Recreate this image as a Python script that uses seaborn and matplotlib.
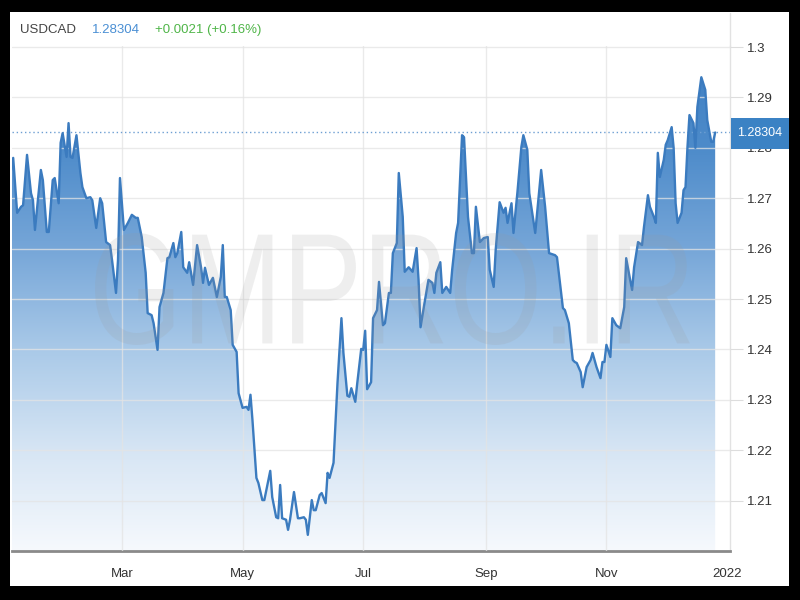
import numpy as np
import pandas as pd
import seaborn as sns
import matplotlib.pyplot as plt
import matplotlib.dates as mdates
from matplotlib.patches import Rectangle, PathPatch
from matplotlib.lines import Line2D
from matplotlib.colors import LinearSegmentedColormap
from matplotlib.textpath import TextPath
from matplotlib.font_manager import FontProperties
from matplotlib.transforms import Affine2D

sns.set_style('white')
plt.rcParams['font.family'] = ['Liberation Sans', 'DejaVu Sans']

# ----------------------------------------------------------------------
# data: day number counted from 1 Jan 2021, USDCAD rate
# ----------------------------------------------------------------------
days_2021 = [
    3, 4, 6, 8, 9, 11, 13, 14, 15, 18, 19, 21, 22, 24, 25, 27, 28, 29,          # Jan
    31, 32, 33, 34, 36, 38, 39, 41, 43, 44, 46, 48, 49, 51, 53, 54, 56, 57, 58,  # Feb
    60, 62, 64, 66, 67, 69, 71, 72, 74, 75, 77, 78, 80, 82, 83, 85, 86, 87, 89,  # Mar
    90, 92, 93, 95, 97, 99, 100, 101, 103, 105, 107, 109, 110, 111, 112, 114, 115, 117, 118,  # Apr
    120, 122, 123, 124, 125, 127, 128, 130, 131, 134, 135, 137, 138, 139, 140, 142, 143, 144,
    146, 148, 149,                                                               # May
    151, 152, 153, 155, 156, 157, 159, 160, 162, 163, 164, 166, 168, 170, 171, 173, 174, 175,
    177, 178, 180,                                                               # Jun
    181, 182, 183, 185, 186, 188, 189, 191, 192, 194, 195, 196, 198, 199, 201, 202, 204, 206,
    208, 209, 210,                                                               # Jul
    212, 214, 216, 217, 218, 220, 221, 223, 225, 226, 228, 229, 231, 232, 234, 236, 237, 238,
    240, 242,                                                                    # Aug
    244, 245, 247, 248, 250, 252, 253, 254, 256, 257, 259, 261, 262, 264, 265, 267, 268, 271,  # Sep
    273, 275, 278, 279, 282, 283, 285, 287, 288, 289, 291, 292, 294, 296, 297, 299, 301, 302, 303,  # Oct
    304, 306, 307, 309, 311, 313, 314, 316, 317, 318, 320, 322, 323, 325, 326, 328, 329, 330, 331, 333,  # Nov
    334, 335, 337, 338, 339, 340, 342, 343, 344, 345, 346, 348, 349, 350, 352, 354, 355, 357, 358, 359,  # Dec
]
rates = [
    1.2756, 1.2780, 1.2671, 1.2683, 1.2686, 1.2786, 1.2710, 1.2696, 1.2637, 1.2756, 1.2736, 1.2633,
    1.2633, 1.2736, 1.2740, 1.2690, 1.2810, 1.2829,
    1.2782, 1.2849, 1.2782, 1.2780, 1.2825, 1.2750, 1.2722, 1.2700, 1.2702, 1.2696, 1.2641, 1.2700,
    1.2690, 1.2613, 1.2607, 1.2577, 1.2512, 1.2577, 1.2740,
    1.2637, 1.2651, 1.2667, 1.2661, 1.2661, 1.2623, 1.2552, 1.2472, 1.2468, 1.2452, 1.2399, 1.2484,
    1.2512, 1.2581, 1.2583, 1.2611, 1.2583, 1.2591, 1.2633,
    1.2563, 1.2552, 1.2573, 1.2528, 1.2607, 1.2563, 1.2532, 1.2562, 1.2528, 1.2542, 1.2504, 1.2544,
    1.2607, 1.2504, 1.2504, 1.2478, 1.2409, 1.2395, 1.2313,
    1.2284, 1.2286, 1.2280, 1.2310, 1.2260, 1.2145, 1.2135, 1.2101, 1.2101, 1.2159, 1.2107, 1.2067,
    1.2065, 1.2131, 1.2065, 1.2062, 1.2042, 1.2062, 1.2117, 1.2065, 1.2065,
    1.2067, 1.2062, 1.2032, 1.2101, 1.2081, 1.2081, 1.2111, 1.2115, 1.2095, 1.2155, 1.2145, 1.2175,
    1.2333, 1.2462, 1.2393, 1.2308, 1.2306, 1.2323, 1.2296, 1.2333, 1.2401,
    1.2399, 1.2437, 1.2321, 1.2335, 1.2462, 1.2478, 1.2534, 1.2448, 1.2452, 1.2512, 1.2512, 1.2591,
    1.2611, 1.2750, 1.2663, 1.2554, 1.2563, 1.2554, 1.2601, 1.2538, 1.2444,
    1.2492, 1.2538, 1.2532, 1.2512, 1.2552, 1.2573, 1.2512, 1.2524, 1.2512, 1.2558, 1.2631, 1.2651,
    1.2825, 1.2821, 1.2663, 1.2591, 1.2591, 1.2683, 1.2613, 1.2621,
    1.2623, 1.2558, 1.2524, 1.2597, 1.2692, 1.2671, 1.2681, 1.2651, 1.2690, 1.2631, 1.2712, 1.2802,
    1.2825, 1.2796, 1.2710, 1.2657, 1.2631, 1.2756,
    1.2683, 1.2591, 1.2587, 1.2583, 1.2482, 1.2478, 1.2452, 1.2379, 1.2375, 1.2373, 1.2355, 1.2325,
    1.2365, 1.2379, 1.2393, 1.2365, 1.2343, 1.2375, 1.2375,
    1.2409, 1.2385, 1.2462, 1.2448, 1.2442, 1.2484, 1.2581, 1.2538, 1.2518, 1.2563, 1.2613, 1.2607,
    1.2643, 1.2706, 1.2683, 1.2663, 1.2651, 1.2790, 1.2742, 1.2776,
    1.2806, 1.2815, 1.2841, 1.2800, 1.2690, 1.2651, 1.2671, 1.2716, 1.2722, 1.2802, 1.2865, 1.2849,
    1.2800, 1.2881, 1.2940, 1.2915, 1.2855, 1.2812, 1.2812, 1.28304,
]

symbol = 'USDCAD'
last_price = '1.28304'
change_text = '+0.0021 (+0.16%)'
month_ticks = ['2021-03-01', '2021-05-01', '2021-07-01', '2021-09-01', '2021-11-01', '2022-01-01']
month_labels = ['Mar', 'May', 'Jul', 'Sep', 'Nov', '2022']
y_ticks = [1.21, 1.22, 1.23, 1.24, 1.25, 1.26, 1.27, 1.28, 1.29, 1.30]
y_labels = ['1.21', '1.22', '1.23', '1.24', '1.25', '1.26', '1.27', '1.28', '1.29', '1.3']
watermark = 'GMPRO.IR'

start = pd.Timestamp('2021-01-01')
df = pd.DataFrame({'date': start + pd.to_timedelta(days_2021, unit='D'), 'rate': rates})

# ----------------------------------------------------------------------
# figure: black frame, white panel
# ----------------------------------------------------------------------
fig = plt.figure(figsize=(8, 6), dpi=100, facecolor='black')
fig.patches.append(Rectangle((10 / 800, 14 / 600), 779 / 800, 574 / 600,
                             transform=fig.transFigure, facecolor='white',
                             edgecolor='none', zorder=-1))

ax = fig.add_axes([12 / 800, 49 / 600, 718 / 800, 505 / 600])
ax.set_facecolor('white')

sns.lineplot(data=df, x='date', y='rate', color='#3b7bbf', linewidth=1.7, ax=ax, zorder=3)

ylo, yhi = 1.20, 1.3002
xmin = start + pd.Timedelta(days=3.4)
xmax = start + pd.Timedelta(days=366.5)

# gradient area under the line
cmap = LinearSegmentedColormap.from_list(
    'fx', ['#f6f9fd', '#d6e5f4', '#a9c9e8', '#76a6d8', '#4d8bca', '#3f7fc2'])
grad = np.linspace(1, 0, 256).reshape(-1, 1)
im = ax.imshow(grad, aspect='auto', cmap=cmap, origin='upper', zorder=1,
               extent=[mdates.date2num(xmin), mdates.date2num(xmax), ylo, yhi])
poly = ax.fill_between(df['date'], df['rate'], ylo, facecolor='none', edgecolor='none')
im.set_clip_path(poly.get_paths()[0], transform=ax.transData)

ax.axhline(float(last_price), color='#6e9fd3', lw=1, ls=(0, (1, 2)), zorder=2.6)

ax.set_xlim(xmin, xmax)
ax.set_ylim(ylo, yhi)
ax.set_xlabel('')
ax.set_ylabel('')

ax.set_xticks(pd.to_datetime(month_ticks))
ax.set_xticklabels(month_labels)
ax.set_yticks(y_ticks)
ax.set_yticklabels(y_labels)
ax.yaxis.tick_right()

ax.set_axisbelow(False)
ax.grid(True, color='#e4e4e4', lw=1, alpha=0.75)
ax.get_xgridlines()[-1].set_visible(False)
ax.tick_params(axis='y', length=9, color='#dddddd', labelsize=9.5,
               labelcolor='#333333', pad=3)
ax.tick_params(axis='x', length=0, labelsize=9.5, labelcolor='#333333', pad=12)

for side in ['top', 'left']:
    ax.spines[side].set_visible(False)
ax.spines['right'].set_color('#e2e2e2')
ax.spines['right'].set_linewidth(1)
ax.spines['bottom'].set_color('#8a8a8a')
ax.spines['bottom'].set_linewidth(2)

# separator above the axis column
fig.add_artist(Line2D([730 / 800, 730 / 800], [1 - 46 / 600, 1 - 13 / 600],
                      transform=fig.transFigure, color='#e2e2e2', lw=1))

# header
fig.text(20 / 800, 1 - 30 / 600, symbol, color='#444444', fontsize=9.5, va='center')
fig.text(92 / 800, 1 - 30 / 600, last_price, color='#4a8fd4', fontsize=9.5, va='center')
fig.text(155 / 800, 1 - 30 / 600, change_text, color='#4fb548', fontsize=9.5, va='center')

# last price tag
fig.patches.append(Rectangle((731 / 800, 1 - 149 / 600), 58 / 800, 31 / 600,
                             transform=fig.transFigure, facecolor='#3b82c4',
                             edgecolor='none', zorder=5))
fig.text(760 / 800, 1 - 133 / 600, last_price, color='white', fontsize=9,
         ha='center', va='center', zorder=6)

# watermark, stretched to the tall letter shape of the original
tp = TextPath((0, 0), watermark, size=1, prop=FontProperties(family='Liberation Sans'))
bb = tp.get_extents()
tr = (Affine2D().translate(-bb.x0, -bb.y0)
      .scale(595 / bb.width, 112 / bb.height)
      .translate(95, 600 - 345))
fig.add_artist(PathPatch(tp, transform=tr, facecolor='#9a9a9a', edgecolor='none',
                         alpha=0.16, zorder=2))

fig.savefig('out.png', dpi=100, facecolor='black')
